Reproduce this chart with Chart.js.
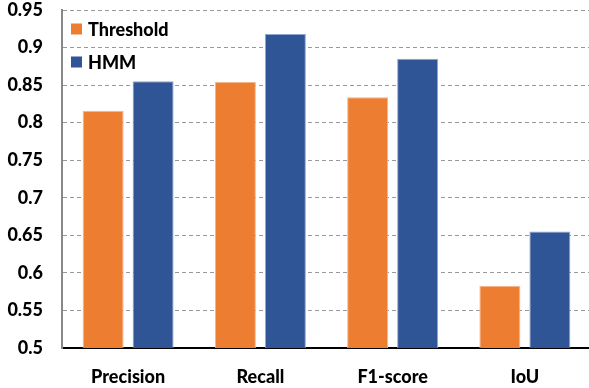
<!DOCTYPE html>
<html>
<head>
<meta charset="utf-8">
<script src="https://cdn.jsdelivr.net/npm/chart.js@4"></script>
<style>
  html, body { margin: 0; padding: 0; background: #fff; overflow: hidden; }
  #wrap { width: 591px; height: 388px; }
</style>
</head>
<body>
<div id="wrap"><canvas id="c"></canvas></div>
<script>
const categories = ['Precision', 'Recall', 'F1-score', 'IoU'];
const seriesNames = ['Threshold', 'HMM'];
const thresholdValues = [0.816, 0.854, 0.834, 0.583];
const hmmValues = [0.855, 0.918, 0.885, 0.655];
const yTicks = [0.5, 0.55, 0.6, 0.65, 0.7, 0.75, 0.8, 0.85, 0.9, 0.95];

const FONT = 'Lato, "Open Sans", sans-serif';
const WEIGHT = '900';

// Legend drawn inside the plot area, stacked vertically at the top-left
const innerLegend = {
  id: 'innerLegend',
  afterDraw(chart) {
    const { ctx, chartArea } = chart;
    ctx.save();
    ctx.font = WEIGHT + ' 18px ' + FONT;
    ctx.textBaseline = 'middle';
    chart.data.datasets.forEach((ds, i) => {
      const y = chartArea.top + 19 + i * 33;
      ctx.fillStyle = ds.backgroundColor;
      ctx.fillRect(chartArea.left + 9, y - 5.5, 11, 11);
      ctx.fillStyle = '#000';
      ctx.fillText(ds.label, chartArea.left + 26, y + 1);
    });
    ctx.restore();
  }
};

new Chart(document.getElementById('c'), {
  type: 'bar',
  data: {
    labels: categories,
    datasets: [
      {
        label: seriesNames[0],
        data: thresholdValues,
        backgroundColor: '#ED7D31',
        borderColor: '#F5B58A',
        borderWidth: 1,
        categoryPercentage: 0.756,
        barPercentage: 0.82
      },
      {
        label: seriesNames[1],
        data: hmmValues,
        backgroundColor: '#2F5597',
        borderColor: '#8FA6CF',
        borderWidth: 1,
        categoryPercentage: 0.756,
        barPercentage: 0.82
      }
    ]
  },
  options: {
    responsive: true,
    maintainAspectRatio: false,
    animation: false,
    layout: { padding: { top: 10, right: 0, bottom: 0, left: 0 } },
    plugins: {
      legend: { display: false },
      title: { display: false },
      tooltip: { enabled: false }
    },
    scales: {
      x: {
        grid: { display: false },
        border: { display: true, color: '#000', width: 2 },
        ticks: {
          color: '#000',
          font: { family: FONT, size: 18, weight: WEIGHT },
          padding: 10,
          maxRotation: 0
        },
        afterFit(scale) { scale.height = 40; }
      },
      y: {
        min: yTicks[0],
        max: yTicks[yTicks.length - 1],
        afterBuildTicks(scale) { scale.ticks = yTicks.map(v => ({ value: v })); },
        grid: {
          color: '#999',
          lineWidth: 1,
          drawTicks: false
        },
        border: { display: true, color: '#888', width: 2, dash: [4, 3] },
        ticks: {
          color: '#000',
          font: { family: FONT, size: 18, weight: WEIGHT },
          padding: 19,
          callback: v => String(Number(v.toFixed(2)))
        },
        afterFit(scale) {
          scale.width = 62;
          scale.paddingTop = 0;
          scale.paddingBottom = 0;
        }
      }
    }
  },
  plugins: [innerLegend]
});
</script>
</body>
</html>
